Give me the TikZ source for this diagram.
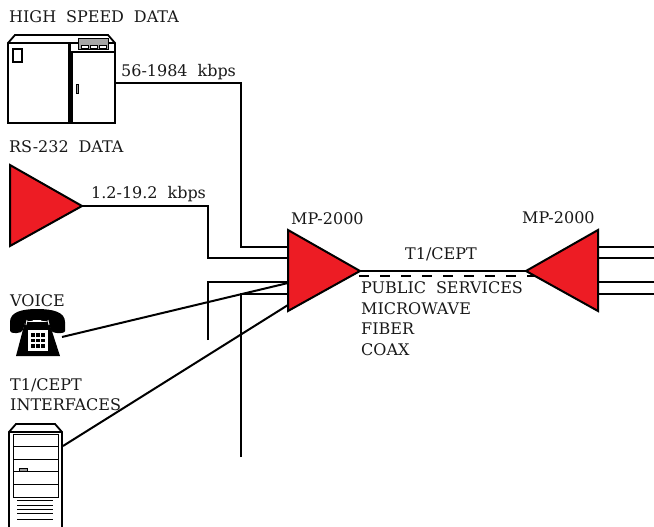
\documentclass[tikz,border=0pt]{standalone}
\usepackage{fontspec}
\setmainfont{DejaVu Serif}
\usetikzlibrary{calc}
\definecolor{mpred}{RGB}{237,28,36}
\tikzset{
  x=1pt,y=-1pt,
  wire/.style={draw=black,line width=2pt,line join=miter},
  tri/.style={draw=black,fill=mpred,line width=2pt,line join=miter},
  lab/.style={inner sep=0pt,anchor=base west,font=\fontsize{16}{18}\selectfont,text=black!90},
  kit/.style={draw=black,line width=1.8pt,fill=white,line join=miter}
}
\newcommand{\gp}{\hspace{.62em}}
\begin{document}
\begin{tikzpicture}
\useasboundingbox (0,0) rectangle (654,527);
% wires first
\coordinate (srvA) at (115,83);
\coordinate (srcB) at (82,206);
\coordinate (a1) at (288,247);
\coordinate (a2) at (288,258);
\coordinate (a3) at (288,282);
\coordinate (a4) at (288,294);
\coordinate (a5) at (288,305);
\coordinate (a6) at (288,283);
\coordinate (tel) at (62,337);
\coordinate (srv) at (63,446);
\coordinate (e1) at (208,340);
\coordinate (e2) at (241,457);
\coordinate (mL) at (360,271);
\coordinate (mR) at (526,271);
\draw[wire] (srvA) -- (241,83) -- (241,247) -- (a1);
\draw[wire] (srcB) -- (208,206) -- (208,258) -- (a2);
\draw[wire] (e1) -- (208,282) -- (a3);
\draw[wire] (e2) -- (241,294) -- (a4);
\draw[wire] (tel) -- (a6);
\draw[wire] (srv) -- (a5);
\draw[wire] (mL) -- (mR);
\draw[wire,dash pattern=on 10pt off 11pt] (359,276) -- (535,276);
\foreach \y in {247,258,282,294}{\coordinate (r) at (598,\y); \coordinate (rr) at (654,\y); \draw[wire] (r) -- (rr);}
% triangles
\draw[tri] (10,165) -- (82,206) -- (10,246) -- cycle;
\draw[tri] (288,230) -- (360,271) -- (288,311) -- cycle;
\draw[tri] (598,230) -- (526,271) -- (598,311) -- cycle;
% computer
\draw[kit] (8,43) -- (15,35) -- (108,35) -- (115,43) -- (115,123) -- (8,123) -- cycle;
\draw[line width=2.6pt] (8,43) -- (70,43);
\draw[line width=1.6pt] (70,43) -- (115,43);
\draw[line width=2.4pt] (69.5,43) -- (69.5,123);
\draw[line width=1.7pt] (72,123) -- (72,52) -- (115,52);
\draw[kit] (13,49) rectangle (22,62);
\draw[line width=1pt,fill=black!35] (78,39) rectangle (108,50);
\foreach \x in {81,90,99}{\draw[fill=white,line width=.5pt] (\x,45) rectangle (\x+7,48);}
\draw[line width=.9pt,fill=black!40] (76,84) rectangle (78.5,93);
% phone
\fill[black] (10,322) .. controls (10,312) and (22,309) .. (37,309) .. controls (53,309) and (65,312) .. (65,322) -- (65,331) .. controls (65,334) and (52,334) .. (51,330) -- (49,322) .. controls (44,320) and (30,320) .. (25,322) -- (23,330) .. controls (22,334) and (10,334) .. (10,331) -- cycle;
\fill[black] (25,322) -- (49,322) -- (60,356) -- (16,356) -- cycle;
\draw[white,line width=.8pt] (33,320.5) -- (41,320.5);
\draw[white,line width=.8pt] (27,320) -- (26,325);
\draw[white,line width=.8pt] (48,320) -- (49,325);
\fill[white] (28,330) rectangle (48,351);
\foreach \x in {33,38,43}\foreach \y in {335,340.5,346}{\fill[black] (\x-1.7,\y-1.7) rectangle (\x+1.7,\y+1.7);}
% server
\draw[kit] (9,527) -- (9,432) -- (16,424) -- (55,424) -- (62,432) -- (62,527);
\draw[line width=1.7pt] (9,432) -- (62,432);
\draw[line width=.9pt] (13,434) rectangle (58,497);
\foreach \y in {446,459,471,484}{\draw[line width=1pt] (13,\y) -- (58,\y);}
\draw[line width=.7pt,fill=black!40] (19,468) rectangle (27,471);
\foreach \y in {500.5,505,509,513,519}{\draw[line width=.8pt] (17,\y) -- (53,\y);}
% labels
\node[lab] (l1) at (9,23) {HIGH\gp SPEED\gp DATA};
\node[lab] (l2) at (121,77) {56-1984\gp kbps};
\node[lab] (l3) at (9,153) {RS-232\gp DATA};
\node[lab] (l4) at (91,198) {1.2-19.2\gp kbps};
\node[lab] (l5) at (291,224) {MP-2000};
\node[lab] (l6) at (522,223) {MP-2000};
\node[lab] (l7) at (405,259) {T1/CEPT};
\node[lab] (l8) at (361,293) {PUBLIC\gp SERVICES};
\node[lab] (l9) at (361,314) {MICROWAVE};
\node[lab] (l10) at (361,334) {FIBER};
\node[lab] (l11) at (361,355) {COAX};
\node[lab] (l12) at (10,306) {VOICE};
\node[lab] (l13) at (10,390) {T1/CEPT};
\node[lab] (l14) at (10,410) {INTERFACES};
\end{tikzpicture}
\end{document}
